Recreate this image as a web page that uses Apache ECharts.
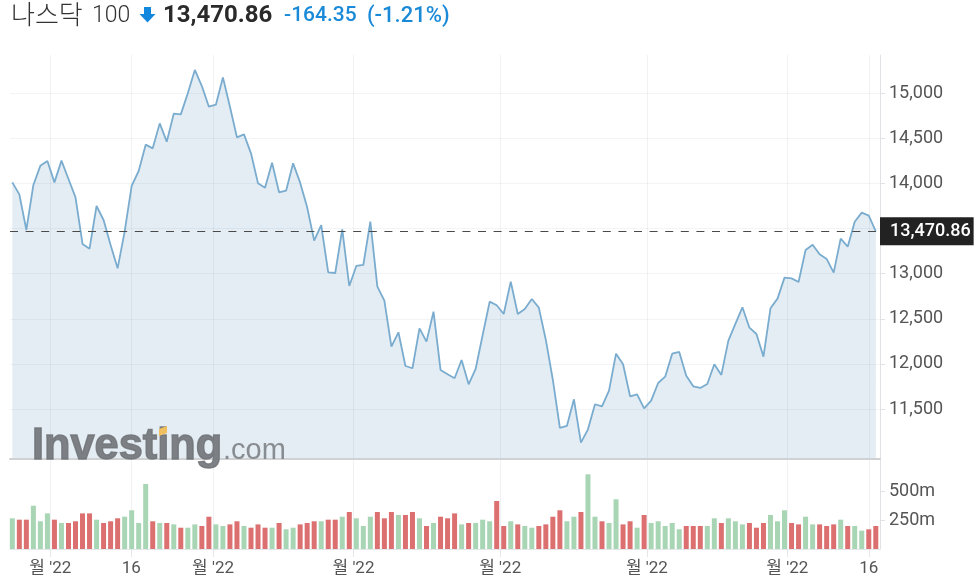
<!DOCTYPE html>
<html><head><meta charset="utf-8">
<style>html,body{margin:0;padding:0;background:#fff}#c{width:975px;height:583px}</style>
<script src="https://cdn.jsdelivr.net/npm/echarts@6/dist/echarts.min.js"></script>
</head><body><div id="c"></div>
<script>
var closeValues = [14013,13880,13485,13984,14198,14250,14013,14254,14050,13847,13330,13278,13751,13596,13319,13060,13467,13973,14139,14431,14390,14667,14464,14775,14767,15000,15259,15081,14852,14874,15177,14852,14512,14545,14335,14002,13954,14231,13903,13921,14224,14010,13736,13367,13540,13016,13008,13492,12864,13086,13097,13577,12857,12702,12192,12351,11977,11952,12395,12247,12580,11933,11885,11841,12044,11774,11944,12321,12691,12650,12554,12912,12554,12609,12720,12624,12266,11822,11290,11312,11608,11128,11275,11553,11530,11704,12114,11996,11641,11663,11508,11593,11789,11859,12114,12133,11870,11752,11734,11778,11996,11878,12258,12443,12628,12402,12332,12081,12617,12724,12957,12949,12909,13263,13322,13215,13164,13012,13389,13300,13577,13677,13644,13470.86];
var volumeValues = [268,256,256,378,242,311,256,227,227,242,311,311,256,227,242,268,282,338,227,567,242,227,227,215,186,186,215,201,282,215,201,215,242,201,186,215,186,186,227,172,186,215,227,242,242,256,256,282,323,268,201,282,323,268,323,297,297,323,268,201,227,282,268,311,215,227,227,256,242,419,201,242,215,201,186,201,215,282,338,242,282,323,652,282,242,227,434,215,242,186,297,227,242,201,227,172,201,201,201,201,268,227,268,242,215,227,186,227,297,242,338,227,215,282,215,215,201,215,256,201,201,160,172,201];
var volumeDirs = [
  "grrgggrgrr","rrgrrrgggg","rgrgrggrrg","grrgrrrgrg","grrrgrrgrg","ggrrrgrrgr",
  "grrrgrgggr","rgrggrrrrg","grggrggrrg","rgggggrrrg","grgggrrrgg","grrggrrrgr","ggrr"
].join("");
var xTickIndex = [5.41,16.95,28.6,48.6,69.5,90.4,110.4,122];
var xTickLabels = ["월 '22","16","월 '22","월 '22","월 '22","월 '22","월 '22","16"];
var priceTicks = [11500,12000,12500,13000,13500,14000,14500,15000];
var priceLabelTicks = [11500,12000,12500,13000,14000,14500,15000];
var volumeTicks = [250,500];
var lastPrice = 13470.86;

var UP = '#a8d5b4', DOWN = '#dc7070', FONT = 'Roboto, sans-serif';
var linePts = closeValues.map(function(v,i){return [i,v];});
var volPts = volumeValues.map(function(v,i){
  return {value:[i,v], itemStyle:{color: volumeDirs.charAt(i)==='g'?UP:DOWN}};
});
function fmt(v){return String(v).replace(/\B(?=(\d{3})+$)/g,',');}
function fmt2(v){var s=v.toFixed(2).split('.');return fmt(s[0])+'.'+s[1];}
var xMin=-0.33, xMax=123.6;

var chart = echarts.init(document.getElementById('c'),null,{renderer:'canvas'});
chart.setOption({
  animation:false,
  backgroundColor:'#fff',
  grid:[
    {left:10,right:95,top:55,height:404,containLabel:false},
    {left:10,right:95,top:460,height:89,containLabel:false}
  ],
  xAxis:[
    {type:'value',gridIndex:0,min:xMin,max:xMax,z:3,
      axisLine:{show:true,onZero:false,lineStyle:{color:'#cfd1d3',width:2}},
      axisTick:{show:false,customValues:xTickIndex},
      axisLabel:{show:false,customValues:xTickIndex},
      splitLine:{show:true,lineStyle:{color:'rgba(60,70,90,0.07)',width:1}}},
    {type:'value',gridIndex:1,min:xMin,max:xMax,
      axisLine:{show:true,onZero:false,lineStyle:{color:'#e4e6e9',width:1}},
      axisTick:{show:true,length:8,customValues:xTickIndex,lineStyle:{color:'#e4e6e9'}},
      axisLabel:{show:true,customValues:xTickIndex,margin:11,color:'#555',fontSize:17,
        fontFamily:'Roboto, "Noto Sans CJK KR", sans-serif',
        formatter:function(v){return xTickLabels[xTickIndex.indexOf(v)];}},
      splitLine:{show:true,lineStyle:{color:'#f0f1f3',width:1}}}
  ],
  yAxis:[
    {type:'value',gridIndex:0,position:'right',min:10946,max:15425,
      axisLine:{show:true,onZero:false,lineStyle:{color:'#e0e2e5'}},
      axisTick:{show:true,length:5,customValues:priceTicks,lineStyle:{color:'#e0e2e5'}},
      axisLabel:{show:true,customValues:priceLabelTicks,margin:9,color:'#555',fontSize:18,fontFamily:FONT,padding:[0,0,3,0],
        formatter:function(v){return fmt(v);}},
      splitLine:{show:true,lineStyle:{color:'#f3f4f6',width:1}}},
    {type:'value',gridIndex:1,position:'right',min:0,max:777,
      axisLine:{show:true,onZero:false,lineStyle:{color:'#e0e2e5'}},
      axisTick:{show:true,length:5,customValues:volumeTicks,lineStyle:{color:'#e0e2e5'}},
      axisLabel:{show:true,customValues:volumeTicks,margin:9,color:'#555',fontSize:18,fontFamily:FONT,padding:[0,0,3,0],
        formatter:function(v){return v+'m';}},
      splitLine:{show:false}}
  ],
  series:[
    {type:'line',xAxisIndex:0,yAxisIndex:0,data:linePts,symbol:'none',smooth:false,
      lineStyle:{color:'#7aaccf',width:1.8},
      areaStyle:{color:'rgba(10,90,150,0.11)',opacity:1},
      markLine:{silent:true,symbol:'none',precision:2,
        lineStyle:{color:'#4a4a4a',type:[8,7.6],width:1.2},
        label:{show:true,position:'end',distance:0,formatter:fmt2(lastPrice),
          color:'#fff',backgroundColor:'#222',fontFamily:FONT,fontSize:18,fontWeight:500,
          padding:[5,3,5,10],borderRadius:0},
        data:[{yAxis:lastPrice}]}},
    {type:'bar',xAxisIndex:1,yAxisIndex:1,data:volPts,barWidth:5,
      itemStyle:{borderWidth:0}}
  ],
  graphic:[
    {type:'text',left:11,top:1,z:10,style:{text:'나스닥',fill:'#333',font:'300 26px "Noto Sans CJK KR", sans-serif'}},
    {type:'text',left:92,top:5,z:10,style:{text:'100',fill:'#333',font:'300 23px Roboto, sans-serif'}},
    {type:'polygon',z:10,shape:{points:[[144,7],[151,7],[151,14],[155.5,14],[147.5,22.5],[139.5,14],[144,14]]},style:{fill:'#1188dd'}},
    {type:'text',left:163,top:4,z:10,style:{text:'13,470.86',fill:'#2a2a2a',font:'700 24px Roboto, sans-serif'}},
    {type:'text',left:284,top:5,z:10,style:{text:'-164.35',fill:'#1a8ad8',font:'500 21px Roboto, sans-serif'}},
    {type:'text',left:367,top:5,z:10,style:{text:'(-1.21%)',fill:'#1a8ad8',font:'500 22px Roboto, sans-serif'}},
    {type:'text',x:32,y:425,z:10,scaleX:0.985,style:{text:'Investing',fill:'rgba(112,115,120,0.9)',stroke:'rgba(112,115,120,0.85)',lineWidth:1.4,font:'700 44px "Liberation Sans", sans-serif',shadowBlur:3,shadowColor:'rgba(112,115,120,0.7)'}},
    {type:'text',left:223,top:436,z:10,style:{text:'.com',fill:'rgba(120,123,128,0.85)',font:'400 29px "Liberation Sans", sans-serif'}},
    {type:'polygon',z:11,shape:{points:[[159,429],[167,426],[167,433],[159,436]]},style:{fill:'#f0c060'}}
  ]
});
</script></body></html>
